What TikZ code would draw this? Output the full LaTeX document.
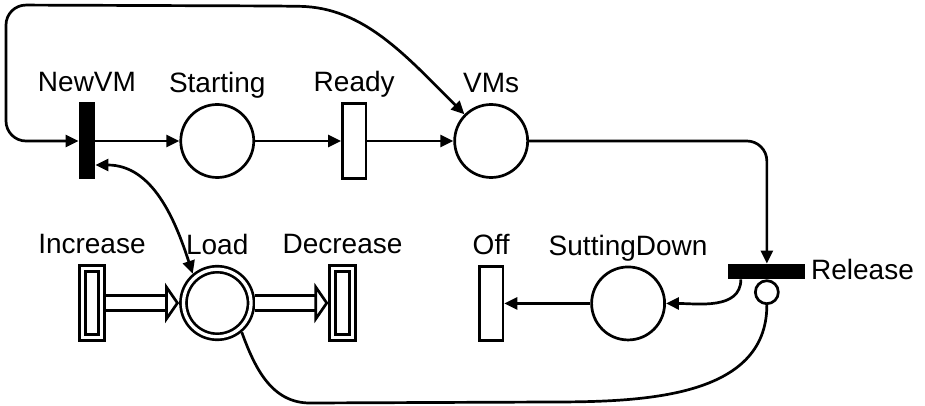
\documentclass[tikz,border=0pt]{standalone}
\usepackage{fontspec}
\setmainfont{Liberation Sans}
\usetikzlibrary{arrows.meta,positioning}
\newcommand{\netfont}{\fontsize{14}{16}\selectfont}
\tikzset{
  net/.style={line width=1.35pt},
  placenode/.style={circle,draw,net,minimum size=36.5pt,inner sep=0pt},
  immtrans/.style={rectangle,fill=black,minimum width=8pt,minimum height=38.5pt,inner sep=0pt},
  hbar/.style={immtrans,minimum width=38.5pt,minimum height=7.5pt},
  timedtrans/.style={rectangle,draw,net,minimum width=11.75pt,minimum height=37.25pt,inner sep=0pt},
  fluidplace/.style={circle,draw,net,double,double distance=1.65pt,minimum size=33.75pt,inner sep=0pt,outer sep=2.2pt},
  fluidtrans/.style={rectangle,draw,net,double,double distance=1.65pt,minimum width=9.75pt,minimum height=34.25pt,inner sep=0pt,outer sep=2.2pt},
  inhibit/.style={circle,draw,net,minimum size=11.5pt,inner sep=0pt},
  every label/.style={font=\netfont,text depth=2.5pt,inner sep=2.5pt},
  flow/.style={net,-{Triangle[length=6.5pt,width=6pt]}},
  readarc/.style={net,{Triangle[length=6.5pt,width=6pt]}-{Triangle[length=6.5pt,width=6pt]}},
  fluidflow/.style={net,double,double distance=6pt,-{Triangle[open,length=7pt,width=20pt]}},
  inhibarc/.style={net}
}

\begin{document}
\begin{tikzpicture}[node distance=43pt,x=1pt,y=1pt]
  \useasboundingbox (0,0) rectangle (462.5,-203);
  \node[immtrans,label=above:NewVM] (newvm) at (43.5,-70.5) {};
  \node[placenode,label=above:Starting,right=42pt of newvm] (starting) {};
  \node[timedtrans,label=above:Ready,right=of starting] (ready) {};
  \node[placenode,label=above:VMs,right=of ready] (vms) {};
  \node[fluidplace,label=above:Load,below=of starting] (load) {};
  \node[fluidtrans,label=above:Increase,left=36.5pt of load] (increase) {};
  \node[fluidtrans,label=above:Decrease,right=36.5pt of load] (decrease) {};
  \node[timedtrans,label=above:Off,below=of vms] (off) {};
  \node[placenode,label=above:SuttingDown,right=of off] (sd) {};
  \node[hbar,label=right:Release,right=31pt of sd,yshift=16pt] (release) {};
  \node[inhibit,below=0pt of release] (inh) {};

  \draw[flow] (newvm) -- (starting);
  \draw[flow] (starting) -- (ready);
  \draw[flow] (ready) -- (vms);
  \draw[readarc,rounded corners=10pt] (newvm.west) -| (3,-2.5) -- (140,-3) to[out=-1,in=135] (vms.north west);
  \draw[readarc] ([yshift=-12pt]newvm.east) to[out=0,in=108] (load.130);
  \draw[fluidflow] (increase) -- (load);
  \draw[fluidflow] (load) -- (decrease);
  \draw[flow,rounded corners=10pt] (vms.east) -| (release.north);
  \draw[flow] ([xshift=-13pt]release.south) to[out=-90,in=0] (sd.east);
  \draw[flow] (sd) -- (off);
  \draw[inhibarc] (load.-50) to[out=-70,in=180] (155,-201.5) -- (275,-201) to[out=0,in=-90] (inh.south);
\end{tikzpicture}
\end{document}
